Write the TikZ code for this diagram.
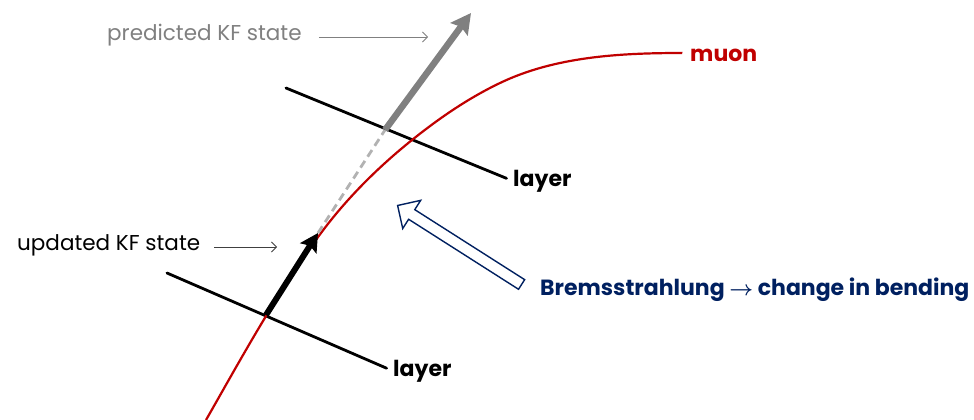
\documentclass[tikz,border=0pt]{standalone}
\usepackage{amsmath}
\usepackage{fontspec}
\setmainfont{Poppins}
\usepackage{xcolor}
\usetikzlibrary{arrows.meta,positioning,calc,shapes.arrows}

\definecolor{muonred}{RGB}{192,0,0}
\definecolor{bremblue}{RGB}{0,32,96}
\definecolor{predgray}{RGB}{128,128,128}
\definecolor{dashgray}{RGB}{178,178,178}

\tikzset{
  txt/.style={anchor=west, inner sep=0pt, font=\fontsize{21.5}{22}\selectfont},
  boldtxt/.style={txt, font=\fontsize{22}{22}\selectfont\bfseries},
  layerline/.style={line width=2.8pt, line cap=round, shorten >=7pt},
  pointer/.style={line width=0.8pt, -{Straight Barb[length=5pt,width=10pt]}},
}

\begin{document}
\begin{tikzpicture}[x=1pt,y=-1pt]
\useasboundingbox (0,0) rectangle (974,420);

% labels
\node[txt, text=predgray] (predtxt) at (107,35) {predicted KF state};
\node[txt] (updtxt) at (17,245) {updated KF state};
\node[boldtxt, text=muonred] (muontxt) at (690,55) {muon};
\node[boldtxt] (layerA) at (513,181) {layer};
\node[boldtxt] (layerB) at (393,371) {layer};
\node[boldtxt, text=bremblue] (bremtxt) at (540,290)
  {Bremsstrahlung $\boldsymbol{\rightarrow}$ change in bending};

% detector layers
\draw[layerline] (286,88) -- (layerA.west);
\draw[layerline] (167,273) -- (layerB.west);

% muon track
\draw[muonred, line width=2.2pt, shorten >=8pt] (206,420)
  .. controls (242.2,356.6) and (277.6,291.6) .. (321,233)
  .. controls (346.6,198.5) and (378.4,166.9) .. (412,140)
  .. controls (439.3,118.1) and (468.4,98.1) .. (500,83)
  .. controls (555.4,56.4) and (620.5,53) .. (682,53)
  -- (muontxt.west);

% Kalman filter states
\coordinate (hitA) at (266,315);
\coordinate (updtip) at (318,233);
\coordinate (predstart) at (385,130);
\coordinate (predtip) at (471,13);
\draw[dashgray, line width=2.8pt, dash pattern=on 8pt off 5pt] (updtip) -- (predstart);
\draw[line width=6pt, -{Stealth[length=18pt,width=19pt,inset=3pt]}] (hitA) -- (updtip);
\draw[predgray, line width=6.5pt, -{Stealth[length=20pt,width=21pt,inset=3pt]}] (predstart) -- (predtip);

% pointers from the labels
\coordinate (predend) at (428,37);
\coordinate (updend) at (277,247);
\draw[pointer, predgray] ($(predtxt.east)+(17,2)$) -- (predend);
\draw[pointer, black!75] ($(updtxt.east)+(14,2)$) -- (updend);

% hollow arrow for the kink
\coordinate (bremtip) at (400,207);
\coordinate (bremtail) at (524,286);
\node[single arrow, draw=bremblue, line width=1.4pt, inner sep=5pt,
  minimum height=147pt, single arrow head extend=11pt, rotate=147.5]
  (kink) at ($(bremtip)!0.5!(bremtail)$) {};
\end{tikzpicture}
\end{document}
